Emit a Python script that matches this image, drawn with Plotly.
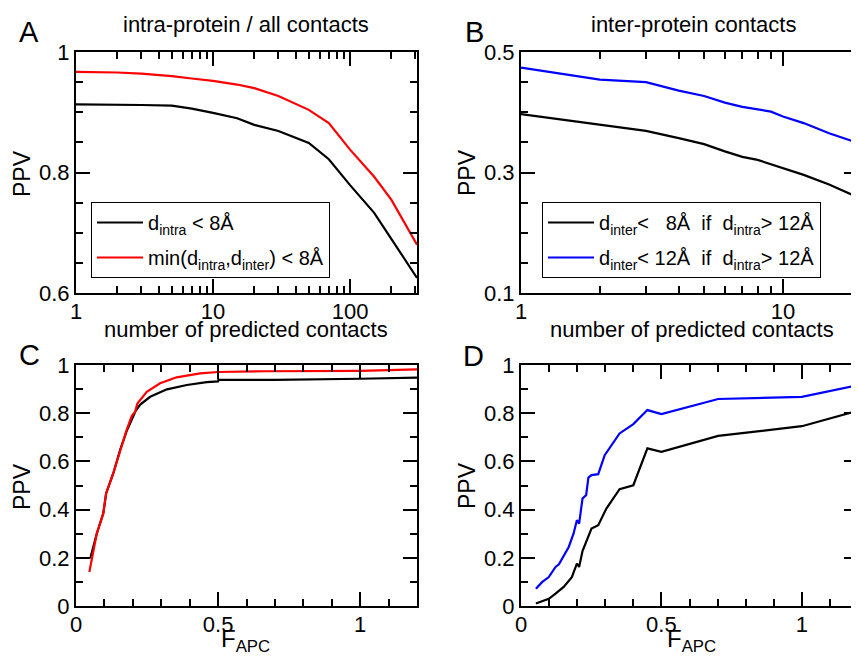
import plotly.graph_objects as go

# ---------------- Data ----------------
# Panel A: intra-protein / all contacts (PPV vs number of predicted contacts)
a_x = [1, 2, 3, 5, 7, 10, 15, 20, 30, 50, 70, 100, 150, 200, 308]
a_black = [0.913, 0.913, 0.912, 0.911, 0.906, 0.899, 0.890, 0.879, 0.869, 0.849, 0.822, 0.779, 0.733, 0.690, 0.625]
a_red = [0.967, 0.966, 0.964, 0.960, 0.956, 0.952, 0.946, 0.940, 0.927, 0.904, 0.882, 0.838, 0.793, 0.755, 0.680]

# Panel B: inter-protein contacts
b_x = [1, 2, 3, 4, 5, 6, 7, 8, 9, 10, 12, 15, 20]
b_black = [0.397, 0.379, 0.369, 0.357, 0.347, 0.335, 0.326, 0.321, 0.314, 0.307, 0.296, 0.280, 0.256]
b_blue = [0.474, 0.454, 0.450, 0.436, 0.427, 0.416, 0.409, 0.405, 0.401, 0.393, 0.382, 0.365, 0.347]

# Panel C: PPV vs F_APC (intra)
c_red_x = [0.047, 0.073, 0.096, 0.106, 0.131, 0.155, 0.178, 0.196, 0.208, 0.216, 0.249, 0.296, 0.354, 0.437, 0.5, 0.67, 1.0, 1.2]
c_red_y = [0.141, 0.300, 0.384, 0.467, 0.550, 0.647, 0.730, 0.788, 0.806, 0.840, 0.889, 0.924, 0.949, 0.965, 0.971, 0.974, 0.976, 0.982]
c_black_x = [0.050, 0.073, 0.096, 0.106, 0.131, 0.155, 0.178, 0.196, 0.210, 0.226, 0.261, 0.320, 0.390, 0.460, 0.5, 0.501, 0.7, 1.0, 1.2]
c_black_y = [0.197, 0.300, 0.384, 0.467, 0.550, 0.647, 0.725, 0.775, 0.810, 0.836, 0.868, 0.899, 0.917, 0.929, 0.932, 0.938, 0.938, 0.943, 0.948]

# Panel D: PPV vs F_APC (inter)
d_blue_x = [0.053, 0.076, 0.099, 0.123, 0.135, 0.146, 0.170, 0.187, 0.199, 0.207, 0.219, 0.232, 0.240, 0.251, 0.275, 0.298, 0.351, 0.400, 0.450, 0.500, 0.702, 1.000, 1.200]
d_blue_y = [0.072, 0.100, 0.120, 0.162, 0.173, 0.197, 0.245, 0.300, 0.356, 0.342, 0.446, 0.460, 0.533, 0.543, 0.547, 0.626, 0.716, 0.755, 0.813, 0.796, 0.859, 0.868, 0.916]
d_black_x = [0.053, 0.099, 0.123, 0.152, 0.181, 0.199, 0.207, 0.219, 0.251, 0.275, 0.304, 0.351, 0.400, 0.450, 0.500, 0.702, 1.000, 1.200]
d_black_y = [0.010, 0.030, 0.051, 0.079, 0.120, 0.176, 0.162, 0.228, 0.321, 0.335, 0.404, 0.485, 0.501, 0.654, 0.640, 0.706, 0.746, 0.810]

# Labels
a_leg = ["d<sub>intra</sub> < 8Å", "min(d<sub>intra</sub>,d<sub>inter</sub>) < 8Å"]
b_leg = ["d<sub>inter</sub><\u00a0\u00a0 8Å\u00a0 if\u00a0 d<sub>intra</sub>> 12Å",
         "d<sub>inter</sub>< 12Å\u00a0 if\u00a0 d<sub>intra</sub>> 12Å"]
titles = ["intra-protein / all contacts", "inter-protein contacts"]
panel_letters = ["A", "B", "C", "D"]
x_title_top = "number of predicted contacts"
x_title_bot = "F<sub>APC</sub>"
y_title = "PPV"

# ---------------- Figure ----------------
W, H = 859, 658
OFF = 8  # page body margin offset
FONT = "Liberation Sans, Arial, sans-serif"
fig = go.Figure()

LW = 2.2
fig.add_trace(go.Scatter(x=a_x, y=a_black, mode="lines", line=dict(color="black", width=LW),
                         name=a_leg[0], xaxis="x", yaxis="y", legend="legend", legendgroup="a1"))
fig.add_trace(go.Scatter(x=a_x, y=a_red, mode="lines", line=dict(color="#ff0000", width=LW),
                         name=a_leg[1], xaxis="x", yaxis="y", legend="legend", legendgroup="a2"))
fig.add_trace(go.Scatter(x=b_x, y=b_black, mode="lines", line=dict(color="black", width=LW),
                         name=b_leg[0], xaxis="x2", yaxis="y2", legend="legend2", legendgroup="b1"))
fig.add_trace(go.Scatter(x=b_x, y=b_blue, mode="lines", line=dict(color="#0000ff", width=LW),
                         name=b_leg[1], xaxis="x2", yaxis="y2", legend="legend2", legendgroup="b2"))
fig.add_trace(go.Scatter(x=c_black_x, y=c_black_y, mode="lines", line=dict(color="black", width=LW),
                         showlegend=False, xaxis="x3", yaxis="y3"))
fig.add_trace(go.Scatter(x=c_red_x, y=c_red_y, mode="lines", line=dict(color="#ff0000", width=LW),
                         showlegend=False, xaxis="x3", yaxis="y3"))
fig.add_trace(go.Scatter(x=d_black_x, y=d_black_y, mode="lines", line=dict(color="black", width=LW),
                         showlegend=False, xaxis="x4", yaxis="y4"))
fig.add_trace(go.Scatter(x=d_blue_x, y=d_blue_y, mode="lines", line=dict(color="#0000ff", width=LW),
                         showlegend=False, xaxis="x4", yaxis="y4"))

def px_x(p):
    return (p - OFF) / W

def px_y(p):
    return 1 - (p - OFF) / H

LEFT_DOM = [px_x(76), px_x(417)]
RIGHT_DOM = [px_x(521), px_x(858)]
TOP_DOM = [px_y(293), px_y(52)]
BOT_DOM = [px_y(606), px_y(365)]

TF = dict(family=FONT, size=22, color="black")
common = dict(showline=True, linecolor="black", linewidth=2, mirror="ticks", ticks="inside",
              ticklen=14, tickwidth=2, tickcolor="black", showgrid=False, zeroline=False,
              tickfont=TF, automargin=False)
minor_common = dict(ticks="inside", ticklen=7, tickwidth=2, tickcolor="black", showgrid=False)
xextra = dict(ticklabelstandoff=-2)

leg_common = dict(xanchor="left", yanchor="top", bgcolor="white", bordercolor="black", borderwidth=1,
                  font=dict(family=FONT, size=20, color="black"), traceorder="grouped",
                  tracegroupgap=6, itemwidth=46)

layout = dict(
    width=W, height=H, margin=dict(l=0, r=0, t=0, b=0, pad=0, autoexpand=False),
    paper_bgcolor="white", plot_bgcolor="white",
    font=dict(family=FONT, color="black"),
    xaxis=dict(type="log", domain=LEFT_DOM, range=[0, 2.4886], anchor="y",
               tickvals=[1, 10, 100], ticktext=["1", "10", "100"],
               minor=dict(tickvals=[2, 3, 4, 5, 6, 7, 8, 9, 20, 30, 40, 50, 60, 70, 80, 90, 200, 300], **minor_common),
               **xextra, **common),
    yaxis=dict(domain=TOP_DOM, range=[0.6, 1.0], anchor="x", tickvals=[0.6, 0.8, 1.0],
               ticktext=["0.6", "0.8", "1"], minor=dict(dtick=0.05, **minor_common), **common),
    xaxis2=dict(type="log", domain=RIGHT_DOM, range=[0, 1.2865], anchor="y2",
                tickvals=[1, 10], ticktext=["1", "10"],
                minor=dict(tickvals=[2, 3, 4, 5, 6, 7, 8, 9, 20], **minor_common),
                **xextra, **common),
    yaxis2=dict(domain=TOP_DOM, range=[0.1, 0.5], anchor="x2", tickvals=[0.1, 0.3, 0.5],
                ticktext=["0.1", "0.3", "0.5"], minor=dict(dtick=0.05, tick0=0.1, **minor_common), **common),
    xaxis3=dict(domain=LEFT_DOM, range=[0, 1.2], anchor="y3", tickvals=[0, 0.5, 1],
                ticktext=["0", "0.5", "1"], minor=dict(dtick=0.1, **minor_common),
                **xextra, **common),
    yaxis3=dict(domain=BOT_DOM, range=[0, 1], anchor="x3", tickvals=[0, 0.2, 0.4, 0.6, 0.8, 1],
                ticktext=["0", "0.2", "0.4", "0.6", "0.8", "1"], minor=dict(dtick=0.1, **minor_common), **common),
    xaxis4=dict(domain=RIGHT_DOM, range=[0, 1.2], anchor="y4", tickvals=[0, 0.5, 1],
                ticktext=["0", "0.5", "1"], minor=dict(dtick=0.1, **minor_common),
                **xextra, **common),
    yaxis4=dict(domain=BOT_DOM, range=[0, 1], anchor="x4", tickvals=[0, 0.2, 0.4, 0.6, 0.8, 1],
                ticktext=["0", "0.2", "0.4", "0.6", "0.8", "1"], minor=dict(dtick=0.1, **minor_common), **common),
    legend=dict(x=px_x(91), y=px_y(202), **leg_common),
    legend2=dict(x=px_x(542), y=px_y(202), **leg_common),
    showlegend=True,
)
fig.update_layout(**layout)

def ann(text, x, y, size, angle=0):
    fig.add_annotation(text=text, x=px_x(x), y=px_y(y), xref="paper", yref="paper",
                       xanchor="center", yanchor="middle", textangle=angle,
                       showarrow=False, font=dict(family=FONT, size=size, color="black"))

# Panel titles
ann(titles[0], 246, 24, 22)
ann(titles[1], 693, 24, 22)
# Panel letters
for lt, (lx, ly) in zip(panel_letters, [(29, 32), (474, 32), (29, 355), (473, 356)]):
    ann(lt, lx, ly, 29)
# Axis titles
ann(x_title_top, 246, 330, 22)
ann(x_title_top, 692, 330, 22)
ann(x_title_bot, 246, 640, 24)
ann(x_title_bot, 691, 640, 24)
for (yx, yy) in [(22, 173), (467, 173), (22, 486), (467, 486)]:
    ann(y_title, yx, yy, 23, -90)

fig.write_html("out.html")
